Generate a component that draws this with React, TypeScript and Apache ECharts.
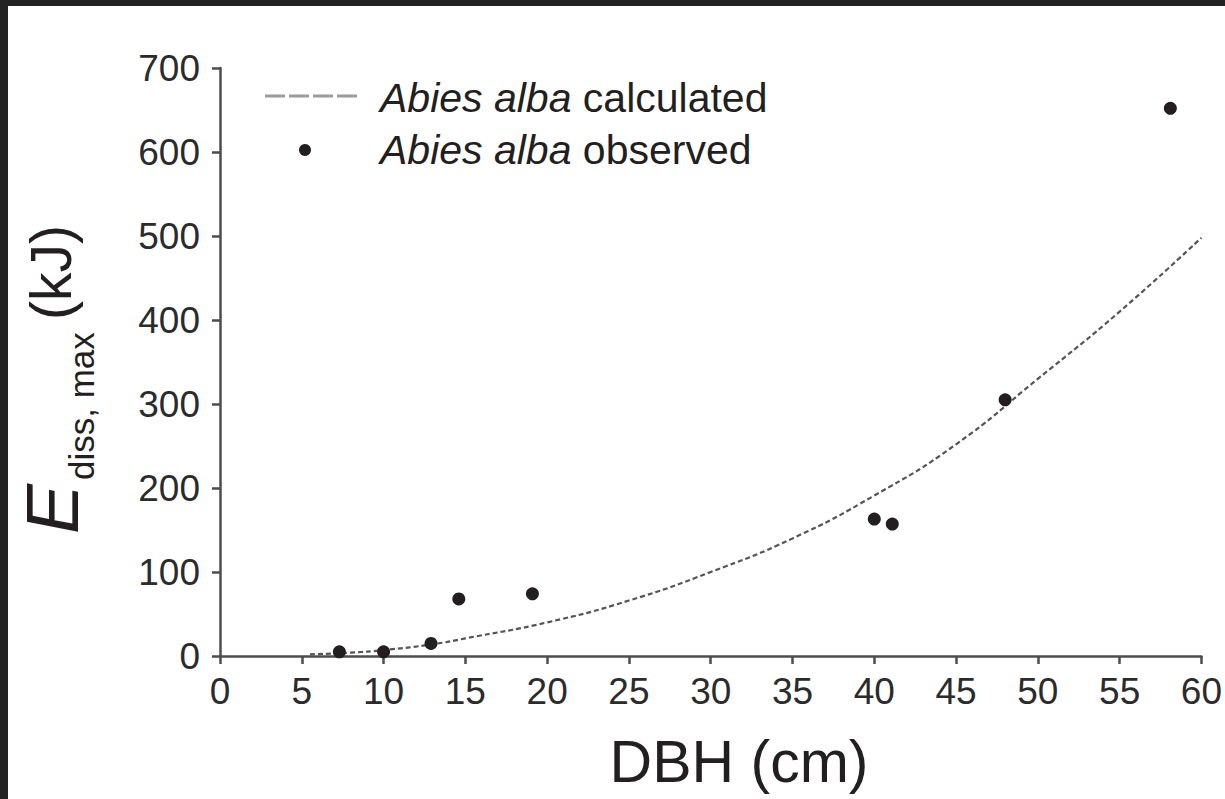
import React, { useEffect, useRef } from "react";
import * as echarts from "echarts";

// DBH (cm) of observed Abies alba trees and their max dissipated energy (kJ)
const observedDBH = [7.3, 10, 12.9, 14.6, 19.1, 40, 41.1, 48, 58.1];
const observedE = [5, 5, 15, 68, 74, 163, 157, 305, 652];

// calculated curve
const calcDBH = [5.5, 8, 10, 13, 15, 20, 25, 30, 35, 40, 45, 50, 55, 60];
const calcE = [2, 4, 7, 14, 21, 40, 66, 100, 140, 191, 252, 330, 410, 498];

const xTicks = { min: 0, max: 60, interval: 5 };
const yTicks = { min: 0, max: 700, interval: 100 };

const FONT = "'Liberation Sans', Arial, Helvetica, sans-serif";
const INK = "#231f20";
const AXIS = "#4d4d4d";

export default function App() {
  const ref = useRef<HTMLDivElement>(null);

  useEffect(() => {
    if (!ref.current) return;
    const chart = echarts.init(ref.current, null, { renderer: "svg" });
    const axisCommon = {
      type: "value" as const,
      axisLine: { show: true, lineStyle: { color: AXIS, width: 2.5 } },
      axisTick: { show: true, length: 8, lineStyle: { color: AXIS, width: 2.5 } },
      splitLine: { show: false },
      axisLabel: { fontSize: 37, color: "#2b2b2b", fontFamily: FONT },
    };
    chart.setOption({
      animation: false,
      backgroundColor: "#ffffff",
      grid: { left: 212, right: 23, top: 62, bottom: 143 },
      xAxis: {
        ...axisCommon,
        min: xTicks.min,
        max: xTicks.max,
        interval: xTicks.interval,
        axisLabel: { ...axisCommon.axisLabel, margin: 17 },
      },
      yAxis: {
        ...axisCommon,
        min: yTicks.min,
        max: yTicks.max,
        interval: yTicks.interval,
        axisLabel: { ...axisCommon.axisLabel, margin: 20 },
      },
      series: [
        {
          name: "Abies alba calculated",
          type: "line",
          smooth: true,
          showSymbol: false,
          data: calcDBH.map((x, i) => [x, calcE[i]]),
          lineStyle: { color: "#555555", width: 2.2, type: [5, 3] },
          z: 2,
        },
        {
          name: "Abies alba observed",
          type: "scatter",
          symbol: "circle",
          symbolSize: 13,
          data: observedDBH.map((x, i) => [x, observedE[i]]),
          itemStyle: { color: INK, opacity: 1 },
          z: 3,
        },
      ],
      graphic: [
        // legend
        {
          type: "line",
          shape: { x1: 257, y1: 90, x2: 350, y2: 90 },
          style: { stroke: "#9a9a9a", lineWidth: 3, lineDash: [20, 4] },
        },
        {
          type: "circle",
          shape: { cx: 297, cy: 144, r: 6 },
          style: { fill: INK },
        },
        {
          type: "text",
          x: 372,
          y: 92,
          style: {
            text: "{i|Abies alba}{n| calculated}",
            verticalAlign: "middle",
            align: "left",
            rich: {
              i: { fontStyle: "italic", fontSize: 41, fontFamily: FONT, fill: INK },
              n: { fontSize: 41, fontFamily: FONT, fill: INK },
            },
          },
        },
        {
          type: "text",
          x: 372,
          y: 144,
          style: {
            text: "{i|Abies alba}{n| observed}",
            verticalAlign: "middle",
            align: "left",
            rich: {
              i: { fontStyle: "italic", fontSize: 41, fontFamily: FONT, fill: INK },
              n: { fontSize: 41, fontFamily: FONT, fill: INK },
            },
          },
        },
        // x axis title
        {
          type: "text",
          x: 731,
          y: 756,
          style: {
            text: "DBH (cm)",
            fontSize: 59,
            fontFamily: FONT,
            fill: INK,
            align: "center",
            verticalAlign: "middle",
          },
        },
        // y axis title
        {
          type: "text",
          x: 44,
          y: 528,
          rotation: Math.PI / 2,
          style: {
            text: "E",
            fontSize: 75,
            fontStyle: "italic",
            fontFamily: FONT,
            fill: INK,
            align: "left",
            verticalAlign: "middle",
          },
        },
        {
          type: "text",
          x: 73,
          y: 474,
          rotation: Math.PI / 2,
          style: {
            text: "diss, max",
            fontSize: 35,
            fontFamily: FONT,
            fill: INK,
            align: "left",
            verticalAlign: "middle",
          },
        },
        {
          type: "text",
          x: 43,
          y: 314,
          rotation: Math.PI / 2,
          style: {
            text: "(kJ)",
            fontSize: 57,
            fontFamily: FONT,
            fill: INK,
            align: "left",
            verticalAlign: "middle",
          },
        },
      ],
    });
    return () => chart.dispose();
  }, []);

  return (
    <div
      style={{
        position: "fixed",
        left: 0,
        top: 0,
        width: 1225,
        height: 799,
        background: "#232323",
        overflow: "hidden",
      }}
    >
      <div
        ref={ref}
        style={{
          position: "absolute",
          left: 8,
          top: 6,
          width: 1217,
          height: 793,
          background: "#ffffff",
        }}
      />
    </div>
  );
}
